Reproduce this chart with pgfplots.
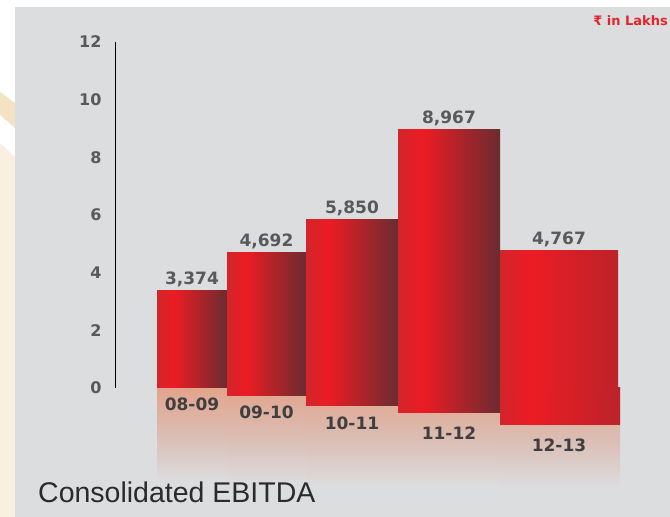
\documentclass[border=0pt]{standalone}
\usepackage{pgfplots}
\pgfplotsset{compat=1.18}
\usepackage{fontspec}
\setmainfont{DejaVu Sans}
\newfontfamily\titlefont{Liberation Sans}
\definecolor{bg}{HTML}{DCDDDF}
\definecolor{cream}{HTML}{F9F0E2}
\definecolor{beige}{HTML}{F3E3C3}
\definecolor{cL}{HTML}{D2252B}
\definecolor{cB}{HTML}{EC1C24}
\definecolor{cR}{HTML}{6A2C31}
\definecolor{cR2}{HTML}{BC232A}
\definecolor{rtop}{HTML}{E2A48C}
\definecolor{rmid}{HTML}{DBBDB3}
\definecolor{tickgray}{HTML}{58595B}
\definecolor{catgray}{HTML}{3F3F41}
\definecolor{titlegray}{HTML}{2B2B2B}
\definecolor{rupred}{HTML}{E3242B}
\pgfdeclarehorizontalshading{cylA}{100bp}{color(0bp)=(cL); color(25bp)=(cL); color(37bp)=(cB); color(75bp)=(cR); color(100bp)=(cR)}
\pgfdeclarehorizontalshading{cylB}{100bp}{color(0bp)=(cL); color(25bp)=(cL); color(38bp)=(cB); color(75bp)=(cR2); color(100bp)=(cR2)}
\pgfdeclareverticalshading{refl}{100bp}{color(0bp)=(bg); color(30bp)=(bg); color(52bp)=(rmid); color(75bp)=(rtop); color(100bp)=(rtop)}
\begin{document}
\begin{tikzpicture}[x=1pt,y=1pt]
\useasboundingbox (0,0) rectangle (670,517);
\fill[white] (0,0) rectangle (670,517);
\fill[cream] (0,0) -- (0,374) -- (15,360) -- (15,0) -- cycle;
\fill[beige] (0,425) -- (15,414) -- (15,389) -- (0,402) -- cycle;
\fill[bg] (15,0) rectangle (670,510);
\begin{axis}[
  at={(115pt,129pt)}, anchor=south west,
  scale only axis, width=555pt, height=346pt,
  xmin=115, xmax=670, ymin=0, ymax=12000,
  enlargelimits=false, clip=false, axis on top,
  scaled y ticks=false,
  axis y line=left, axis x line=bottom,
  x axis line style={draw=none},
  y axis line style={-, draw=black, line width=0.9pt},
  major tick length=0pt,
  ytick={0,2000,4000,6000,8000,10000,12000},
  yticklabels={0,2,4,6,8,10,12},
  yticklabel style={font=\bfseries\fontsize{16}{16}\selectfont, text=tickgray, xshift=-10pt},
  xtick={192,266.5,352,449,559},
  xticklabels={\raisebox{-23pt}[0pt][0pt]{08-09},\raisebox{-31pt}[0pt][0pt]{09-10},\raisebox{-42pt}[0pt][0pt]{10-11},\raisebox{-52pt}[0pt][0pt]{11-12},\raisebox{-64pt}[0pt][0pt]{12-13}},
  xticklabel style={anchor=center, font=\bfseries\fontsize{17}{17}\selectfont, text=catgray},
  /pgf/number format/assume math mode=true,
  every node near coord/.append style={font=\bfseries\fontsize{17}{17}\selectfont, text=tickgray, anchor=south},
]
% reflections
\addplot[ybar, bar width=70, bar shift=0pt, draw=none, shade, shading=refl] coordinates {(192,-3600)};
\addplot[ybar, bar width=79, bar shift=0pt, draw=none, shade, shading=refl] coordinates {(266.5,-3700)};
\addplot[ybar, bar width=92, bar shift=0pt, draw=none, shade, shading=refl] coordinates {(352,-3800)};
\addplot[ybar, bar width=102, bar shift=0pt, draw=none, shade, shading=refl] coordinates {(449,-3800)};
\addplot[ybar, bar width=120, bar shift=0pt, draw=none, shade, shading=refl] coordinates {(560,-3850)};
% perspective feet of the cylinders
\addplot[ybar, bar width=79, bar shift=0pt, draw=none, shade, shading=cylA] coordinates {(266.5,-243)};
\addplot[ybar, bar width=92, bar shift=0pt, draw=none, shade, shading=cylA] coordinates {(352,-590)};
\addplot[ybar, bar width=102, bar shift=0pt, draw=none, shade, shading=cylA] coordinates {(449,-833)};
\addplot[ybar, bar width=120, bar shift=0pt, draw=none, shade, shading=cylB] coordinates {(560,-1250)};
% EBITDA bars
\addplot[ybar, bar width=70, bar shift=0pt, draw=none, shade, shading=cylA, nodes near coords] coordinates {(192,3374)};
\addplot[ybar, bar width=79, bar shift=0pt, draw=none, shade, shading=cylA, nodes near coords] coordinates {(266.5,4692)};
\addplot[ybar, bar width=92, bar shift=0pt, draw=none, shade, shading=cylA, nodes near coords] coordinates {(352,5850)};
\addplot[ybar, bar width=102, bar shift=0pt, draw=none, shade, shading=cylA, nodes near coords] coordinates {(449,8967)};
\addplot[ybar, bar width=118, bar shift=0pt, draw=none, shade, shading=cylB, nodes near coords] coordinates {(559,4767)};
\end{axis}
\node[anchor=base west, font=\titlefont\fontsize{28.5}{30}\selectfont, text=titlegray, inner sep=0pt] at (38,14) {Consolidated EBITDA};
\node[anchor=base east, font=\bfseries\fontsize{13}{13}\selectfont, text=rupred, inner sep=0pt] at (668,491) {₹ in Lakhs};
\end{tikzpicture}
\end{document}
